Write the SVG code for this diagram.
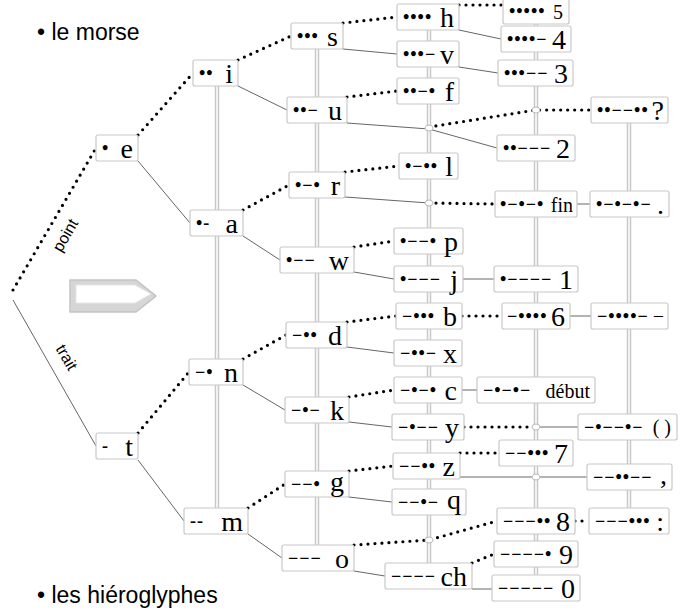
<svg xmlns="http://www.w3.org/2000/svg" width="684" height="612" viewBox="0 0 684 612">
<style>
.box{fill:#fff;stroke:#c8c8c8;stroke-width:1.2}
.c{font-family:"Liberation Serif",serif;font-size:18px;font-weight:bold;letter-spacing:1px;fill:#000}
.l{font-family:"Liberation Serif",serif;font-size:28px;text-anchor:end;fill:#000}
.s{font-size:20px}
.dit{stroke:#000;stroke-width:3.2;stroke-linecap:round;stroke-dasharray:0 7;fill:none}
.dah{stroke:#666;stroke-width:1;fill:none}
.colo{stroke:#c8c8c8;stroke-width:4.5}
.coli{stroke:#fff;stroke-width:1.5}
.jn{fill:#fff;stroke:#bbb;stroke-width:1}
.t{font-family:"Liberation Sans",Arial,sans-serif;fill:#000}
</style>
<rect width="684" height="612" fill="#fff"/>
<text class="t" x="37" y="40" font-size="23">• le morse</text>
<text class="t" x="37" y="603" font-size="23">• les hiéroglyphes</text>
<g id="arrow">
<polygon points="70,280 136,280 156,296 136,312 70,312" fill="#d6d6d6" stroke="#c4c4c4" stroke-width="1.5"/>
<polygon points="76,285 135,285 151,294 135,303 76,303" fill="#fff" stroke="#e6e6e6" stroke-width="1"/>
</g>
<g id="columns">
<line class="colo" x1="217" y1="80" x2="217" y2="512"/><line class="coli" x1="217" y1="80" x2="217" y2="512"/>
<line class="colo" x1="317" y1="45" x2="317" y2="548"/><line class="coli" x1="317" y1="45" x2="317" y2="548"/>
<line class="colo" x1="429" y1="26" x2="429" y2="566"/><line class="coli" x1="429" y1="26" x2="429" y2="566"/>
<line class="colo" x1="536" y1="14" x2="536" y2="578"/><line class="coli" x1="536" y1="14" x2="536" y2="578"/>
<line class="colo" x1="629" y1="120" x2="629" y2="511"/><line class="coli" x1="629" y1="120" x2="629" y2="511"/>
</g>
<g id="connectors">
<polyline class="dit" points="13,290 96,148"/>
<polyline class="dit" points="138,135 193,73"/>
<polyline class="dit" points="238,60 291,36"/>
<polyline class="dit" points="343,23 397,17"/>
<polyline class="dit" points="347,97 397,91"/>
<polyline class="dit" points="459,5 503,5"/>
<polyline class="dit" points="429,127 536,110 591,110"/>
<polyline class="dit" points="243,210 289,185"/>
<polyline class="dit" points="345,172 399,166"/>
<polyline class="dit" points="429,203 495,204"/>
<polyline class="dit" points="354,247 394,241"/>
<polyline class="dit" points="138,433 189,372"/>
<polyline class="dit" points="243,359 286,335"/>
<polyline class="dit" points="347,322 396,316"/>
<polyline class="dit" points="462,316 502,316"/>
<polyline class="dit" points="349,397 394,390"/>
<polyline class="dit" points="464,427 536,427"/>
<polyline class="dit" points="248,508 285,484"/>
<polyline class="dit" points="349,471 393,466"/>
<polyline class="dit" points="460,453 499,453"/>
<polyline class="dit" points="354,545 429,540 497,521"/>
<polyline class="dit" points="575,521 589,521"/>
<polyline class="dit" points="472,563 494,554"/>
<polyline class="dah" points="13,300 96,446"/>
<polyline class="dah" points="138,161 190,223"/>
<polyline class="dah" points="238,86 287,110"/>
<polyline class="dah" points="343,49 397,54"/>
<polyline class="dah" points="347,123 429,129 497,148"/>
<polyline class="dah" points="459,30 501,39"/>
<polyline class="dah" points="459,67 498,73"/>
<polyline class="dah" points="345,197 429,203"/>
<polyline class="dah" points="577,204 590,204"/>
<polyline class="dah" points="243,236 280,260"/>
<polyline class="dah" points="354,272 394,279"/>
<polyline class="dah" points="463,279 494,279"/>
<polyline class="dah" points="347,347 394,353"/>
<polyline class="dah" points="570,316 591,316"/>
<polyline class="dah" points="243,385 285,410"/>
<polyline class="dah" points="349,422 392,427"/>
<polyline class="dah" points="462,390 477,390"/>
<polyline class="dah" points="536,427 578,427"/>
<polyline class="dah" points="138,460 184,521"/>
<polyline class="dah" points="248,534 282,558"/>
<polyline class="dah" points="349,497 392,502"/>
<polyline class="dah" points="460,477 587,477"/>
<polyline class="dah" points="354,571 385,576"/>
<polyline class="dah" points="472,589 492,589"/>
<ellipse class="jn" cx="429" cy="128" rx="4" ry="3"/>
<ellipse class="jn" cx="536" cy="110" rx="4" ry="3"/>
<ellipse class="jn" cx="429" cy="203" rx="4" ry="3"/>
<ellipse class="jn" cx="536" cy="427" rx="4" ry="3"/>
<ellipse class="jn" cx="536" cy="477" rx="4" ry="3"/>
<ellipse class="jn" cx="429" cy="540" rx="4" ry="3"/>
<text class="t" font-size="16" transform="translate(70,238) rotate(-60)" text-anchor="middle">point</text>
<text class="t" font-size="16" transform="translate(62,360) rotate(60)" text-anchor="middle">trait</text>
</g>
<g id="n-e"><rect class="box" x="96" y="135" width="42" height="26" rx="2"/><text class="c" x="102" y="154">•</text><text class="l" x="133" y="158">e</text></g>
<g id="n-i"><rect class="box" x="193" y="60" width="45" height="26" rx="2"/><text class="c" x="199" y="79">••</text><text class="l" x="233" y="83">i</text></g>
<g id="n-s"><rect class="box" x="291" y="23" width="52" height="26" rx="2"/><text class="c" x="297" y="42">•••</text><text class="l" x="338" y="46">s</text></g>
<g id="n-u"><rect class="box" x="287" y="97" width="60" height="26" rx="2"/><text class="c" x="293" y="116">••−</text><text class="l" x="342" y="120">u</text></g>
<g id="n-h"><rect class="box" x="397" y="4" width="62" height="26" rx="2"/><text class="c" x="403" y="23">••••</text><text class="l" x="454" y="27">h</text></g>
<g id="n-v"><rect class="box" x="397" y="41" width="62" height="26" rx="2"/><text class="c" x="403" y="60">•••−</text><text class="l" x="454" y="64">v</text></g>
<g id="n-f"><rect class="box" x="397" y="78" width="62" height="26" rx="2"/><text class="c" x="403" y="97">••−•</text><text class="l" x="454" y="101">f</text></g>
<g id="n-5"><rect class="box" x="503" y="-2" width="66" height="26" rx="2"/><text class="c" x="509" y="17">•••••</text><text class="l s" x="563" y="19">5</text></g>
<g id="n-4"><rect class="box" x="501" y="26" width="70" height="26" rx="2"/><text class="c" x="507" y="45">••••−</text><text class="l" x="566" y="49">4</text></g>
<g id="n-3"><rect class="box" x="498" y="60" width="75" height="26" rx="2"/><text class="c" x="504" y="79">•••−−</text><text class="l" x="568" y="83">3</text></g>
<g id="n-q-mark"><rect class="box" x="591" y="97" width="77" height="26" rx="2"/><text class="c" x="597" y="116">••−−••</text><text class="l" x="664" y="120">?</text></g>
<g id="n-2"><rect class="box" x="497" y="135" width="78" height="26" rx="2"/><text class="c" x="503" y="154">••−−−</text><text class="l" x="570" y="158">2</text></g>
<g id="n-l"><rect class="box" x="399" y="153" width="59" height="26" rx="2"/><text class="c" x="405" y="172">•−••</text><text class="l" x="453" y="176">l</text></g>
<g id="n-r"><rect class="box" x="289" y="172" width="56" height="26" rx="2"/><text class="c" x="295" y="191">•−•</text><text class="l" x="340" y="195">r</text></g>
<g id="n-a"><rect class="box" x="190" y="210" width="53" height="26" rx="2"/><text class="c" x="196" y="229">•-</text><text class="l" x="238" y="233">a</text></g>
<g id="n-w"><rect class="box" x="280" y="247" width="74" height="26" rx="2"/><text class="c" x="286" y="266">•−−</text><text class="l" x="349" y="270">w</text></g>
<g id="n-p"><rect class="box" x="394" y="228" width="69" height="26" rx="2"/><text class="c" x="400" y="247">•−−•</text><text class="l" x="458" y="251">p</text></g>
<g id="n-j"><rect class="box" x="394" y="266" width="69" height="26" rx="2"/><text class="c" x="400" y="285">•−−−</text><text class="l" x="458" y="289">j</text></g>
<g id="n-fin"><rect class="box" x="495" y="191" width="82" height="26" rx="2"/><text class="c" x="500" y="210">•−•−•</text><text class="l s" x="573" y="212">fin</text></g>
<g id="n-period"><rect class="box" x="590" y="191" width="79" height="26" rx="2"/><text class="c" x="596" y="210">•−•−•−</text><text class="l" x="664" y="214">.</text></g>
<g id="n-1"><rect class="box" x="494" y="266" width="84" height="26" rx="2"/><text class="c" x="500" y="285">•−−−−</text><text class="l" x="573" y="289">1</text></g>
<g id="n-b"><rect class="box" x="396" y="303" width="66" height="26" rx="2"/><text class="c" x="402" y="322">−•••</text><text class="l" x="457" y="326">b</text></g>
<g id="n-6"><rect class="box" x="502" y="303" width="68" height="26" rx="2"/><text class="c" x="507" y="322">−••••</text><text class="l" x="565" y="326">6</text></g>
<g id="n-hyphen"><rect class="box" x="591" y="303" width="77" height="26" rx="2"/><text class="c" x="597" y="322">−••••−</text><text class="l s" x="664" y="323">−</text></g>
<g id="n-x"><rect class="box" x="394" y="340" width="68" height="26" rx="2"/><text class="c" x="400" y="359">−••−</text><text class="l" x="457" y="363">x</text></g>
<g id="n-d"><rect class="box" x="286" y="322" width="61" height="26" rx="2"/><text class="c" x="292" y="341">−••</text><text class="l" x="342" y="345">d</text></g>
<g id="n-n"><rect class="box" x="189" y="359" width="54" height="26" rx="2"/><text class="c" x="195" y="378">−•</text><text class="l" x="238" y="382">n</text></g>
<g id="n-k"><rect class="box" x="285" y="397" width="64" height="26" rx="2"/><text class="c" x="291" y="416">−•−</text><text class="l" x="344" y="420">k</text></g>
<g id="n-c"><rect class="box" x="394" y="377" width="68" height="26" rx="2"/><text class="c" x="400" y="396">−•−•</text><text class="l" x="457" y="400">c</text></g>
<g id="n-debut"><rect class="box" x="477" y="377" width="118" height="26" rx="2"/><text class="c" x="483" y="396">−•−•−</text><text class="l s" x="590" y="398">début</text></g>
<g id="n-y"><rect class="box" x="392" y="414" width="72" height="26" rx="2"/><text class="c" x="398" y="433">−•−−</text><text class="l" x="459" y="437">y</text></g>
<g id="n-paren"><rect class="box" x="578" y="414" width="99" height="26" rx="2"/><text class="c" x="584" y="433">−•−−•−</text><text class="l s" x="671" y="434">( )</text></g>
<g id="n-7"><rect class="box" x="499" y="440" width="74" height="26" rx="2"/><text class="c" x="505" y="459">−−•••</text><text class="l" x="568" y="463">7</text></g>
<g id="n-z"><rect class="box" x="393" y="453" width="67" height="26" rx="2"/><text class="c" x="399" y="472">−−••</text><text class="l" x="455" y="476">z</text></g>
<g id="n-comma"><rect class="box" x="587" y="464" width="85" height="26" rx="2"/><text class="c" x="593" y="483">−−••−−</text><text class="l" x="667" y="484">,</text></g>
<g id="n-g"><rect class="box" x="285" y="471" width="64" height="26" rx="2"/><text class="c" x="291" y="490">−−•</text><text class="l" x="344" y="491">g</text></g>
<g id="n-q"><rect class="box" x="392" y="489" width="74" height="26" rx="2"/><text class="c" x="398" y="508">−−•−</text><text class="l" x="461" y="509">q</text></g>
<g id="n-m"><rect class="box" x="184" y="508" width="64" height="26" rx="2"/><text class="c" x="190" y="527">--</text><text class="l" x="243" y="531">m</text></g>
<g id="n-8"><rect class="box" x="497" y="508" width="78" height="26" rx="2"/><text class="c" x="503" y="527">−−−••</text><text class="l" x="570" y="531">8</text></g>
<g id="n-colon"><rect class="box" x="589" y="508" width="80" height="26" rx="2"/><text class="c" x="595" y="527">−−−•••</text><text class="l" x="664" y="531">:</text></g>
<g id="n-9"><rect class="box" x="494" y="541" width="84" height="26" rx="2"/><text class="c" x="500" y="560">−−−−•</text><text class="l" x="573" y="564">9</text></g>
<g id="n-o"><rect class="box" x="282" y="545" width="72" height="26" rx="2"/><text class="c" x="288" y="564">−−−</text><text class="l" x="349" y="568">o</text></g>
<g id="n-ch"><rect class="box" x="385" y="563" width="87" height="26" rx="2"/><text class="c" x="391" y="582">−−−−</text><text class="l" x="467" y="586">ch</text></g>
<g id="n-0"><rect class="box" x="492" y="575" width="88" height="26" rx="2"/><text class="c" x="498" y="594">−−−−−</text><text class="l" x="575" y="598">0</text></g>
<g id="n-t"><rect class="box" x="96" y="433" width="42" height="26" rx="2"/><text class="c" x="102" y="452">-</text><text class="l" x="133" y="456">t</text></g>
</svg>
